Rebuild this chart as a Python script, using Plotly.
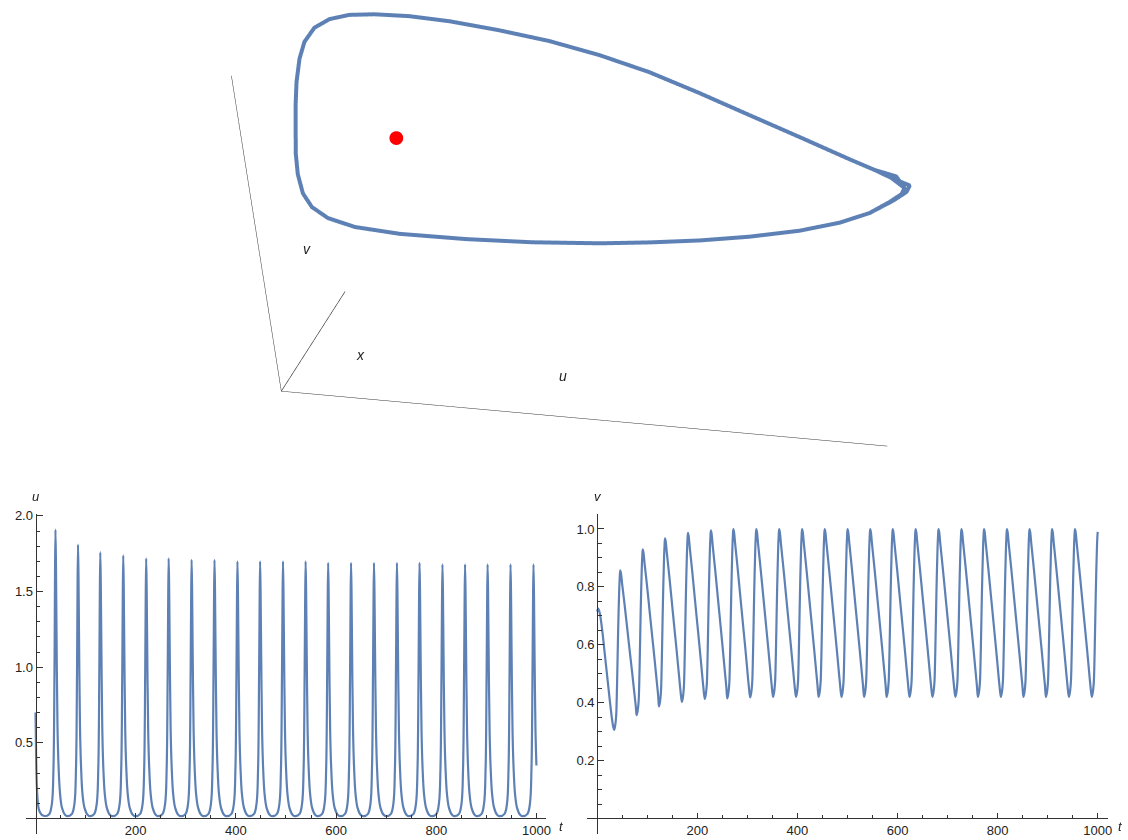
import plotly.graph_objects as go

# ---------------- data ----------------
# u(t) : initial decay, then one row per spike
u_t_start = [0, 1, 2, 4, 7, 12, 18, 24]
u_v_start = [0.70, 0.45, 0.28, 0.13, 0.055, 0.025, 0.016, 0.02]

u_t_cycles = [
    [27.8, 32.8, 35.8, 37.8, 38.8, 39.8, 40.8, 41.8, 43.8, 45.8, 48.8, 52.8, 58.8, 64.8],
    [72.8, 77.8, 80.8, 82.8, 83.8, 84.8, 85.8, 86.8, 88.8, 90.8, 93.8, 97.8, 103.8, 109.8],
    [117.3, 122.3, 125.3, 127.3, 128.3, 129.3, 130.3, 131.3, 133.3, 135.3, 138.3, 142.3, 148.3, 154.3],
    [163.1, 168.1, 171.1, 173.1, 174.1, 175.1, 176.1, 177.1, 179.1, 181.1, 184.1, 188.1, 194.1, 200.1],
    [208.9, 213.9, 216.9, 218.9, 219.9, 220.9, 221.9, 222.9, 224.9, 226.9, 229.9, 233.9, 239.9, 245.9],
    [253.8, 258.8, 261.8, 263.8, 264.8, 265.8, 266.8, 267.8, 269.8, 271.8, 274.8, 278.8, 284.8, 290.8],
    [299.6, 304.6, 307.6, 309.6, 310.6, 311.6, 312.6, 313.6, 315.6, 317.6, 320.6, 324.6, 330.6, 336.6],
    [345.3, 350.3, 353.3, 355.3, 356.3, 357.3, 358.3, 359.3, 361.3, 363.3, 366.3, 370.3, 376.3, 382.3],
    [391.1, 396.1, 399.1, 401.1, 402.1, 403.1, 404.1, 405.1, 407.1, 409.1, 412.1, 416.1, 422.1, 428.1],
    [436.3, 441.3, 444.3, 446.3, 447.3, 448.3, 449.3, 450.3, 452.3, 454.3, 457.3, 461.3, 467.3, 473.3],
    [482.0, 487.0, 490.0, 492.0, 493.0, 494.0, 495.0, 496.0, 498.0, 500.0, 503.0, 507.0, 513.0, 519.0],
    [527.2, 532.2, 535.2, 537.2, 538.2, 539.2, 540.2, 541.2, 543.2, 545.2, 548.2, 552.2, 558.2, 564.2],
    [572.2, 577.2, 580.2, 582.2, 583.2, 584.2, 585.2, 586.2, 588.2, 590.2, 593.2, 597.2, 603.2, 609.2],
    [617.9, 622.9, 625.9, 627.9, 628.9, 629.9, 630.9, 631.9, 633.9, 635.9, 638.9, 642.9, 648.9, 654.9],
    [663.7, 668.7, 671.7, 673.7, 674.7, 675.7, 676.7, 677.7, 679.7, 681.7, 684.7, 688.7, 694.7, 700.7],
    [709.5, 714.5, 717.5, 719.5, 720.5, 721.5, 722.5, 723.5, 725.5, 727.5, 730.5, 734.5, 740.5, 746.5],
    [754.6, 759.6, 762.6, 764.6, 765.6, 766.6, 767.6, 768.6, 770.6, 772.6, 775.6, 779.6, 785.6, 791.6],
    [800.4, 805.4, 808.4, 810.4, 811.4, 812.4, 813.4, 814.4, 816.4, 818.4, 821.4, 825.4, 831.4, 837.4],
    [845.5, 850.5, 853.5, 855.5, 856.5, 857.5, 858.5, 859.5, 861.5, 863.5, 866.5, 870.5, 876.5, 882.5],
    [890.5, 895.5, 898.5, 900.5, 901.5, 902.5, 903.5, 904.5, 906.5, 908.5, 911.5, 915.5, 921.5, 927.5],
    [936.3, 941.3, 944.3, 946.3, 947.3, 948.3, 949.3, 950.3, 952.3, 954.3, 957.3, 961.3, 967.3, 973.3],
    [982.1, 987.1, 990.1, 992.1, 993.1, 994.1, 995.1, 996.1, 998.1, 1000.0],
]
u_v_cycles = [
    [0.03, 0.10, 0.33, 0.95, 1.55, 1.91, 1.68, 1.28, 0.62, 0.36, 0.17, 0.07, 0.025, 0.015],
    [0.03, 0.10, 0.33, 0.95, 1.48, 1.81, 1.60, 1.22, 0.60, 0.35, 0.16, 0.07, 0.025, 0.015],
    [0.03, 0.10, 0.33, 0.95, 1.45, 1.76, 1.55, 1.19, 0.59, 0.34, 0.16, 0.07, 0.025, 0.015],
    [0.03, 0.10, 0.33, 0.95, 1.43, 1.74, 1.53, 1.17, 0.58, 0.34, 0.16, 0.07, 0.025, 0.015],
    [0.03, 0.10, 0.33, 0.95, 1.42, 1.72, 1.52, 1.16, 0.58, 0.34, 0.16, 0.07, 0.025, 0.015],
    [0.03, 0.10, 0.33, 0.95, 1.42, 1.72, 1.52, 1.16, 0.58, 0.34, 0.16, 0.07, 0.025, 0.015],
    [0.03, 0.10, 0.33, 0.95, 1.41, 1.71, 1.51, 1.15, 0.58, 0.34, 0.16, 0.07, 0.025, 0.015],
    [0.03, 0.10, 0.33, 0.95, 1.41, 1.71, 1.51, 1.15, 0.58, 0.34, 0.16, 0.07, 0.025, 0.015],
    [0.03, 0.10, 0.33, 0.95, 1.40, 1.70, 1.50, 1.15, 0.58, 0.34, 0.16, 0.07, 0.025, 0.015],
    [0.03, 0.10, 0.33, 0.95, 1.40, 1.70, 1.50, 1.15, 0.58, 0.34, 0.16, 0.07, 0.025, 0.015],
    [0.03, 0.10, 0.33, 0.95, 1.40, 1.70, 1.50, 1.15, 0.58, 0.34, 0.16, 0.07, 0.025, 0.015],
    [0.03, 0.10, 0.33, 0.95, 1.40, 1.70, 1.50, 1.15, 0.58, 0.34, 0.16, 0.07, 0.025, 0.015],
    [0.03, 0.10, 0.33, 0.95, 1.40, 1.69, 1.49, 1.14, 0.58, 0.34, 0.16, 0.07, 0.025, 0.015],
    [0.03, 0.10, 0.33, 0.95, 1.40, 1.69, 1.49, 1.14, 0.58, 0.34, 0.16, 0.07, 0.025, 0.015],
    [0.03, 0.10, 0.33, 0.95, 1.40, 1.69, 1.49, 1.14, 0.58, 0.34, 0.16, 0.07, 0.025, 0.015],
    [0.03, 0.10, 0.33, 0.95, 1.40, 1.69, 1.49, 1.14, 0.58, 0.34, 0.16, 0.07, 0.025, 0.015],
    [0.03, 0.10, 0.33, 0.95, 1.40, 1.69, 1.49, 1.14, 0.58, 0.34, 0.16, 0.07, 0.025, 0.015],
    [0.03, 0.10, 0.33, 0.95, 1.39, 1.68, 1.48, 1.13, 0.58, 0.34, 0.16, 0.07, 0.025, 0.015],
    [0.03, 0.10, 0.33, 0.95, 1.39, 1.68, 1.48, 1.13, 0.58, 0.34, 0.16, 0.07, 0.025, 0.015],
    [0.03, 0.10, 0.33, 0.95, 1.39, 1.68, 1.48, 1.13, 0.58, 0.34, 0.16, 0.07, 0.025, 0.015],
    [0.03, 0.10, 0.33, 0.95, 1.39, 1.68, 1.48, 1.13, 0.58, 0.34, 0.16, 0.07, 0.025, 0.015],
    [0.03, 0.10, 0.33, 0.95, 1.39, 1.68, 1.48, 1.13, 0.58, 0.35],
]

# v(t) : initial decay, then one row per oscillation
v_t_start = [0, 2, 5, 10, 15, 20, 25, 29, 31.8]
v_v_start = [0.715, 0.725, 0.71, 0.65, 0.57, 0.49, 0.41, 0.35, 0.318]

v_t_cycles = [
    [33.8, 35.8, 37.8, 38.8, 39.8, 40.8, 41.8, 43.8, 45.0, 46.0, 47.3, 49.8, 54.8, 59.8, 64.8, 69.8, 73.8, 76.8],
    [78.8, 80.8, 82.8, 83.8, 84.8, 85.8, 86.8, 88.8, 90.0, 91.0, 92.3, 94.8, 99.8, 104.8, 109.8, 114.8, 118.8, 121.8],
    [123.3, 125.3, 127.3, 128.3, 129.3, 130.3, 131.3, 133.3, 134.5, 135.5, 136.8, 139.3, 144.3, 149.3, 154.3, 159.3, 163.3, 166.3],
    [169.1, 171.1, 173.1, 174.1, 175.1, 176.1, 177.1, 179.1, 180.3, 181.3, 182.6, 185.1, 190.1, 195.1, 200.1, 205.1, 209.1, 212.1],
    [214.9, 216.9, 218.9, 219.9, 220.9, 221.9, 222.9, 224.9, 226.1, 227.1, 228.4, 230.9, 235.9, 240.9, 245.9, 250.9, 254.9, 257.9],
    [259.8, 261.8, 263.8, 264.8, 265.8, 266.8, 267.8, 269.8, 271.0, 272.0, 273.3, 275.8, 280.8, 285.8, 290.8, 295.8, 299.8, 302.8],
    [305.6, 307.6, 309.6, 310.6, 311.6, 312.6, 313.6, 315.6, 316.8, 317.8, 319.1, 321.6, 326.6, 331.6, 336.6, 341.6, 345.6, 348.6],
    [351.3, 353.3, 355.3, 356.3, 357.3, 358.3, 359.3, 361.3, 362.5, 363.5, 364.8, 367.3, 372.3, 377.3, 382.3, 387.3, 391.3, 394.3],
    [397.1, 399.1, 401.1, 402.1, 403.1, 404.1, 405.1, 407.1, 408.3, 409.3, 410.6, 413.1, 418.1, 423.1, 428.1, 433.1, 437.1, 440.1],
    [442.3, 444.3, 446.3, 447.3, 448.3, 449.3, 450.3, 452.3, 453.5, 454.5, 455.8, 458.3, 463.3, 468.3, 473.3, 478.3, 482.3, 485.3],
    [488.0, 490.0, 492.0, 493.0, 494.0, 495.0, 496.0, 498.0, 499.2, 500.2, 501.5, 504.0, 509.0, 514.0, 519.0, 524.0, 528.0, 531.0],
    [533.2, 535.2, 537.2, 538.2, 539.2, 540.2, 541.2, 543.2, 544.4, 545.4, 546.7, 549.2, 554.2, 559.2, 564.2, 569.2, 573.2, 576.2],
    [578.2, 580.2, 582.2, 583.2, 584.2, 585.2, 586.2, 588.2, 589.4, 590.4, 591.7, 594.2, 599.2, 604.2, 609.2, 614.2, 618.2, 621.2],
    [623.9, 625.9, 627.9, 628.9, 629.9, 630.9, 631.9, 633.9, 635.1, 636.1, 637.4, 639.9, 644.9, 649.9, 654.9, 659.9, 663.9, 666.9],
    [669.7, 671.7, 673.7, 674.7, 675.7, 676.7, 677.7, 679.7, 680.9, 681.9, 683.2, 685.7, 690.7, 695.7, 700.7, 705.7, 709.7, 712.7],
    [715.5, 717.5, 719.5, 720.5, 721.5, 722.5, 723.5, 725.5, 726.7, 727.7, 729.0, 731.5, 736.5, 741.5, 746.5, 751.5, 755.5, 758.5],
    [760.6, 762.6, 764.6, 765.6, 766.6, 767.6, 768.6, 770.6, 771.8, 772.8, 774.1, 776.6, 781.6, 786.6, 791.6, 796.6, 800.6, 803.6],
    [806.4, 808.4, 810.4, 811.4, 812.4, 813.4, 814.4, 816.4, 817.6, 818.6, 819.9, 822.4, 827.4, 832.4, 837.4, 842.4, 846.4, 849.4],
    [851.5, 853.5, 855.5, 856.5, 857.5, 858.5, 859.5, 861.5, 862.7, 863.7, 865.0, 867.5, 872.5, 877.5, 882.5, 887.5, 891.5, 894.5],
    [896.5, 898.5, 900.5, 901.5, 902.5, 903.5, 904.5, 906.5, 907.7, 908.7, 910.0, 912.5, 917.5, 922.5, 927.5, 932.5, 936.5, 939.5],
    [942.3, 944.3, 946.3, 947.3, 948.3, 949.3, 950.3, 952.3, 953.5, 954.5, 955.8, 958.3, 963.3, 968.3, 973.3, 978.3, 982.3, 985.3],
    [988.1, 990.1, 992.1, 993.1, 994.1, 995.1, 996.1, 998.1, 999.3, 1000.0],
]
v_v_cycles = [
    [0.306, 0.320, 0.353, 0.401, 0.477, 0.563, 0.648, 0.781, 0.833, 0.857, 0.848, 0.810, 0.737, 0.659, 0.581, 0.504, 0.439, 0.392],
    [0.357, 0.372, 0.406, 0.456, 0.535, 0.624, 0.713, 0.851, 0.905, 0.930, 0.920, 0.878, 0.799, 0.714, 0.630, 0.546, 0.476, 0.424],
    [0.387, 0.402, 0.437, 0.487, 0.567, 0.658, 0.748, 0.888, 0.943, 0.968, 0.958, 0.914, 0.832, 0.744, 0.656, 0.569, 0.496, 0.442],
    [0.403, 0.418, 0.453, 0.503, 0.584, 0.675, 0.766, 0.906, 0.962, 0.987, 0.977, 0.932, 0.849, 0.759, 0.670, 0.581, 0.507, 0.453],
    [0.413, 0.428, 0.463, 0.513, 0.593, 0.684, 0.774, 0.915, 0.970, 0.995, 0.985, 0.940, 0.855, 0.765, 0.675, 0.585, 0.510, 0.455],
    [0.415, 0.430, 0.465, 0.516, 0.596, 0.688, 0.778, 0.919, 0.975, 1.000, 0.990, 0.945, 0.860, 0.769, 0.679, 0.589, 0.513, 0.458],
    [0.418, 0.433, 0.468, 0.518, 0.598, 0.689, 0.779, 0.920, 0.975, 1.000, 0.990, 0.945, 0.860, 0.770, 0.680, 0.590, 0.515, 0.460],
    [0.420, 0.435, 0.470, 0.520, 0.600, 0.690, 0.780, 0.920, 0.975, 1.000, 0.990, 0.945, 0.860, 0.770, 0.680, 0.590, 0.515, 0.460],
    [0.420, 0.435, 0.470, 0.520, 0.600, 0.690, 0.780, 0.920, 0.975, 1.000, 0.990, 0.945, 0.860, 0.770, 0.680, 0.590, 0.515, 0.460],
    [0.420, 0.435, 0.470, 0.520, 0.600, 0.690, 0.780, 0.920, 0.975, 1.000, 0.990, 0.945, 0.860, 0.770, 0.680, 0.590, 0.515, 0.460],
    [0.420, 0.435, 0.470, 0.520, 0.600, 0.690, 0.780, 0.920, 0.975, 1.000, 0.990, 0.945, 0.860, 0.770, 0.680, 0.590, 0.515, 0.460],
    [0.420, 0.435, 0.470, 0.520, 0.600, 0.690, 0.780, 0.920, 0.975, 1.000, 0.990, 0.945, 0.860, 0.770, 0.680, 0.590, 0.515, 0.460],
    [0.420, 0.435, 0.470, 0.520, 0.600, 0.690, 0.780, 0.920, 0.975, 1.000, 0.990, 0.945, 0.860, 0.770, 0.680, 0.590, 0.515, 0.460],
    [0.420, 0.435, 0.470, 0.520, 0.600, 0.690, 0.780, 0.920, 0.975, 1.000, 0.990, 0.945, 0.860, 0.770, 0.680, 0.590, 0.515, 0.460],
    [0.420, 0.435, 0.470, 0.520, 0.600, 0.690, 0.780, 0.920, 0.975, 1.000, 0.990, 0.945, 0.860, 0.770, 0.680, 0.590, 0.515, 0.460],
    [0.420, 0.435, 0.470, 0.520, 0.600, 0.690, 0.780, 0.920, 0.975, 1.000, 0.990, 0.945, 0.860, 0.770, 0.680, 0.590, 0.515, 0.460],
    [0.420, 0.435, 0.470, 0.520, 0.600, 0.690, 0.780, 0.920, 0.975, 1.000, 0.990, 0.945, 0.860, 0.770, 0.680, 0.590, 0.515, 0.460],
    [0.420, 0.435, 0.470, 0.520, 0.600, 0.690, 0.780, 0.920, 0.975, 1.000, 0.990, 0.945, 0.860, 0.770, 0.680, 0.590, 0.515, 0.460],
    [0.420, 0.435, 0.470, 0.520, 0.600, 0.690, 0.780, 0.920, 0.975, 1.000, 0.990, 0.945, 0.860, 0.770, 0.680, 0.590, 0.515, 0.460],
    [0.420, 0.435, 0.470, 0.520, 0.600, 0.690, 0.780, 0.920, 0.975, 1.000, 0.990, 0.945, 0.860, 0.770, 0.680, 0.590, 0.515, 0.460],
    [0.420, 0.435, 0.470, 0.520, 0.600, 0.690, 0.780, 0.920, 0.975, 1.000, 0.990, 0.945, 0.860, 0.770, 0.680, 0.590, 0.515, 0.460],
    [0.420, 0.435, 0.470, 0.520, 0.600, 0.690, 0.780, 0.920, 0.975, 0.990],
]

# limit cycle in (u, v, x) space: two late passes, the second slightly wider at the tip
loop_u = [1.699, 1.663, 1.615, 1.544, 1.405, 1.266, 1.130, 0.993, 0.857, 0.721,
          0.596, 0.468, 0.367, 0.279, 0.210, 0.155, 0.109, 0.0756, 0.0556, 0.0387,
          0.0291, 0.0225, 0.0172, 0.0182, 0.0265, 0.0349, 0.0628, 0.124, 0.243, 0.437,
          0.631, 0.827, 0.974, 1.119, 1.269, 1.412, 1.523, 1.606, 1.660, 1.692, 1.699,
          1.676, 1.615, 1.544, 1.405, 1.266, 1.130, 0.993, 0.857, 0.721,
          0.596, 0.468, 0.367, 0.279, 0.210, 0.155, 0.109, 0.0756, 0.0556, 0.0387,
          0.0291, 0.0225, 0.0172, 0.0182, 0.0265, 0.0349, 0.0628, 0.124, 0.243, 0.437,
          0.631, 0.827, 0.974, 1.119, 1.269, 1.412, 1.523, 1.606, 1.672, 1.705, 1.713,
          1.663, 1.615]
loop_v = [0.610, 0.630, 0.644, 0.663, 0.706, 0.748, 0.793, 0.835, 0.870, 0.900,
          0.935, 0.963, 0.983, 0.996, 0.994, 0.984, 0.961, 0.925, 0.883, 0.826,
          0.768, 0.709, 0.658, 0.610, 0.565, 0.518, 0.477, 0.444, 0.426, 0.428,
          0.438, 0.451, 0.465, 0.479, 0.503, 0.522, 0.541, 0.562, 0.584, 0.599, 0.610,
          0.634, 0.644, 0.663, 0.706, 0.748, 0.793, 0.835, 0.870, 0.900,
          0.935, 0.963, 0.983, 0.996, 0.994, 0.984, 0.961, 0.925, 0.883, 0.826,
          0.768, 0.709, 0.658, 0.610, 0.565, 0.518, 0.477, 0.444, 0.426, 0.428,
          0.438, 0.451, 0.465, 0.479, 0.503, 0.522, 0.541, 0.562, 0.588, 0.603, 0.615,
          0.630, 0.644]
loop_x = [0.95, 0.96, 0.97, 0.98, 0.99, 1.00, 1.00, 1.00, 0.99, 0.97,
          0.90, 0.84, 0.78, 0.72, 0.70, 0.68, 0.67, 0.66, 0.65, 0.64,
          0.62, 0.60, 0.58, 0.56, 0.55, 0.60, 0.66, 0.72, 0.76, 0.76,
          0.75, 0.75, 0.75, 0.76, 0.75, 0.78, 0.82, 0.86, 0.90, 0.93, 0.95,
          0.965, 0.97, 0.98, 0.99, 1.00, 1.00, 1.00, 0.99, 0.97,
          0.90, 0.84, 0.78, 0.72, 0.70, 0.68, 0.67, 0.66, 0.65, 0.64,
          0.62, 0.60, 0.58, 0.56, 0.55, 0.60, 0.66, 0.72, 0.76, 0.76,
          0.75, 0.75, 0.75, 0.76, 0.75, 0.78, 0.82, 0.86, 0.905, 0.94, 0.96,
          0.96, 0.97]

equil_u = [0.279]
equil_v = [0.675]
equil_x = [0.75]

U_RANGE = [0, 1.75]
V_RANGE = [0.2, 1.0]
X_RANGE = [0, 1.0]

t_major = [200, 400, 600, 800, 1000]
t_minor = [50, 100, 150, 250, 300, 350, 450, 500, 550, 650, 700, 750, 850, 900, 950]
u_major = [0.5, 1.0, 1.5, 2.0]
u_major_text = ["0.5", "1.0", "1.5", "2.0"]
u_minor = [-0.1, 0.1, 0.2, 0.3, 0.4, 0.6, 0.7, 0.8, 0.9, 1.1, 1.2, 1.3, 1.4, 1.6, 1.7, 1.8, 1.9]
v_major = [0.2, 0.4, 0.6, 0.8, 1.0]
v_major_text = ["0.2", "0.4", "0.6", "0.8", "1.0"]
v_minor = [-0.05, 0.05, 0.1, 0.15, 0.25, 0.3, 0.35, 0.45, 0.5, 0.55, 0.65, 0.7, 0.75, 0.85, 0.9, 0.95, 1.05]

# ---------------- build ----------------
u_t = u_t_start + [t for row in u_t_cycles for t in row]
u_vals = u_v_start + [v for row in u_v_cycles for v in row]
v_t = v_t_start + [t for row in v_t_cycles for t in row]
v_vals = v_v_start + [v for row in v_v_cycles for v in row]

BLUE = "#5E81B5"
AX = "#333333"
TXT = "#222222"
FONT = "Liberation Sans"

fig = go.Figure()

fig.add_trace(go.Scatter3d(x=loop_u, y=loop_v, z=loop_x, mode="lines",
                           line=dict(color=BLUE, width=8), hoverinfo="skip",
                           showlegend=False, scene="scene"))
fig.add_trace(go.Scatter3d(x=equil_u, y=equil_v, z=equil_x, mode="markers",
                           marker=dict(color="#FF0000", size=8, line=dict(width=0)),
                           hoverinfo="skip", showlegend=False, scene="scene"))
# third axis line along the (u_min, v_min) edge of the box, as in the original
fig.add_trace(go.Scatter3d(x=[U_RANGE[0], U_RANGE[0]], y=[V_RANGE[0], V_RANGE[0]], z=X_RANGE,
                           mode="lines", line=dict(color=AX, width=1.2), hoverinfo="skip",
                           showlegend=False, scene="scene"))

fig.add_trace(go.Scatter(x=u_t, y=u_vals, mode="lines", line=dict(color=BLUE, width=2.2, shape="spline"),
                         xaxis="x", yaxis="y", hoverinfo="skip", showlegend=False))
fig.add_trace(go.Scatter(x=v_t, y=v_vals, mode="lines", line=dict(color=BLUE, width=2.2, shape="spline"),
                         xaxis="x2", yaxis="y2", hoverinfo="skip", showlegend=False))

W, H = 1128, 840


def px_x(p):
    return p / W


def px_y(p):
    return 1 - p / H


tickfont = dict(family=FONT, size=13, color=TXT)


def xax(dom, pos):
    return dict(domain=dom, range=[-20, 1020], anchor="free", position=pos,
                showline=True, linecolor=AX, linewidth=1, showgrid=False, zeroline=False,
                ticks="inside", ticklen=5, tickwidth=1, tickcolor=AX,
                tickmode="array", tickvals=t_major, ticktext=[str(v) for v in t_major],
                minor=dict(tickmode="array", tickvals=t_minor, ticks="inside", ticklen=3,
                           tickwidth=1, tickcolor=AX, showgrid=False),
                tickfont=tickfont, fixedrange=True)


def yax(dom, pos, rng, major, major_text, minor):
    return dict(domain=dom, range=rng, anchor="free", position=pos,
                showline=True, linecolor=AX, linewidth=1, showgrid=False, zeroline=False,
                ticks="inside", ticklen=6, tickwidth=1, tickcolor=AX,
                tickmode="array", tickvals=major, ticktext=major_text,
                minor=dict(tickmode="array", tickvals=minor, ticks="inside", ticklen=3.5,
                           tickwidth=1, tickcolor=AX, showgrid=False),
                tickfont=tickfont, fixedrange=True)


ydom = [px_y(833.5), px_y(511.7)]


def ax3(rng, line=True):
    return dict(range=rng, autorange=False, showgrid=False, zeroline=False, showline=line,
                linecolor=AX, linewidth=1, showticklabels=False, ticks="",
                showbackground=False, showspikes=False, title=dict(text=""))


lab3 = dict(family=FONT, size=14, color=TXT, style="italic")
lab2 = dict(family=FONT, size=13, color=TXT, style="italic")


def label(text, xp, yp):
    return dict(text=text, x=px_x(xp), y=px_y(yp), xref="paper", yref="paper",
                xanchor="center", yanchor="middle", showarrow=False, font=lab2)


d = 3.0
n = (-0.3620, -0.5332, 0.7647)
c = (0.01419, -0.14821, -0.09663)

fig.update_layout(
    width=W, height=H, autosize=False,
    margin=dict(l=0, r=0, t=0, b=0),
    paper_bgcolor="white", plot_bgcolor="white",
    hovermode=False,
    xaxis=xax([px_x(25.6), px_x(548.4)], px_y(818.3)),
    yaxis=yax(ydom, px_x(35.7), [-0.1, 2.015], u_major, u_major_text, u_minor),
    xaxis2=xax([px_x(589.3), px_x(1111.7)], px_y(818.0)),
    yaxis2=yax(ydom, px_x(599.3), [-0.052, 1.053], v_major, v_major_text, v_minor),
    scene=dict(
        domain=dict(x=[0.1, 0.952], y=[0.40, 1.0]),
        xaxis=ax3(U_RANGE),
        yaxis=ax3(V_RANGE),
        zaxis=ax3(X_RANGE, line=False),
        aspectmode="manual", aspectratio=dict(x=2.605, y=1.5067, z=0.7341),
        bgcolor="white",
        camera=dict(projection=dict(type="orthographic"),
                    up=dict(x=-0.0841, y=0.8356, z=0.5428),
                    center=dict(x=c[0], y=c[1], z=c[2]),
                    eye=dict(x=c[0] + d * n[0], y=c[1] + d * n[1], z=c[2] + d * n[2])),
        annotations=[
            dict(x=0.832, y=0.304, z=0.0, text="u", showarrow=False, font=lab3),
            dict(x=0.139, y=0.571, z=0.0, text="v", showarrow=False, font=lab3),
            dict(x=0.152, y=0.2, z=0.408, text="x", showarrow=False, font=lab3),
        ],
    ),
    annotations=[
        label("u", 36, 494),
        label("t", 563, 826),
        label("v", 600, 494),
        label("t", 1124, 826),
    ],
)

fig.write_html("out.html")
